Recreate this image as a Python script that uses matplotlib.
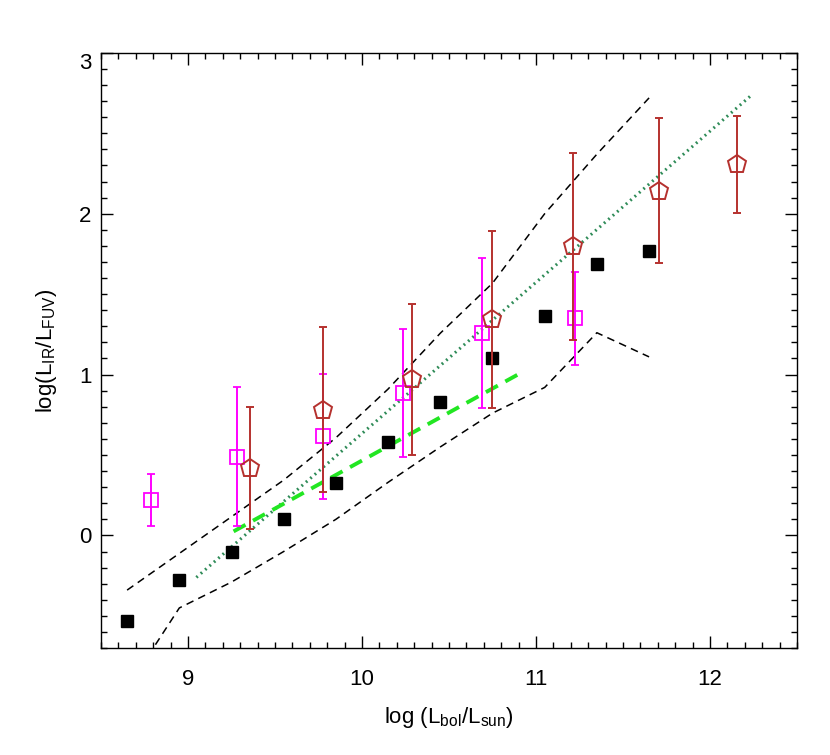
import matplotlib
matplotlib.use("Agg")
import matplotlib.pyplot as plt
import matplotlib.transforms as mtransforms
from matplotlib.ticker import MultipleLocator

plt.rcParams['font.family'] = ['Liberation Sans', 'DejaVu Sans']
plt.rcParams['mathtext.fontset'] = 'custom'
plt.rcParams['mathtext.rm'] = 'Liberation Sans'
plt.rcParams['mathtext.it'] = 'Liberation Sans'

# Black filled squares
blk_x = [8.65, 8.95, 9.25, 9.55, 9.85, 10.15, 10.45, 10.75, 11.05, 11.35, 11.65]
blk_y = [-0.53, -0.277, -0.10, 0.104, 0.325, 0.578, 0.83, 1.10, 1.363, 1.69, 1.766]

# Magenta open squares with error bars
mag_x = [8.785, 9.283, 9.774, 10.236, 10.69, 11.226]
mag_y = [0.222, 0.487, 0.619, 0.888, 1.261, 1.352]
mag_lo = [0.060, 0.056, 0.228, 0.487, 0.791, 1.062]
mag_hi = [0.381, 0.920, 1.003, 1.286, 1.727, 1.640]

# Red pentagons with error bars
red_x = [9.358, 9.774, 10.29, 10.75, 11.21, 11.707, 12.153]
red_y = [0.418, 0.781, 0.971, 1.344, 1.800, 2.143, 2.309]
red_lo = [0.040, 0.273, 0.497, 0.791, 1.215, 1.696, 2.006]
red_hi = [0.801, 1.296, 1.437, 1.891, 2.377, 2.592, 2.607]

# Black dashed envelopes
env_x = [8.65, 8.95, 9.25, 9.55, 9.85, 10.15, 10.45, 10.75, 11.05, 11.35, 11.65]
up_y = [-0.34, -0.112, 0.116, 0.344, 0.607, 0.91, 1.257, 1.568, 2.0, 2.37, 2.72]
lo_y = [-0.95, -0.451, -0.29, -0.10, 0.10, 0.33, 0.55, 0.76, 0.92, 1.26, 1.11]

# Green dashed fit
gfit_x = [9.262, 10.90]
gfit_y = [0.025, 1.0025]

# Sea-green dotted fit
dfit_x = [9.048, 12.245]
dfit_y = [-0.261, 2.743]

fig = plt.figure(figsize=(8.30, 7.55), dpi=100)
ax = fig.add_axes([0.1217, 0.1417, 0.9602 - 0.1217, 0.930 - 0.1417])

ax.plot(env_x, up_y, color='black', lw=1.1, linestyle=(0, (5, 3.5)), zorder=2)
ax.plot(env_x, lo_y, color='black', lw=1.1, linestyle=(0, (5, 3.5)), zorder=2)
ax.plot(dfit_x, dfit_y, color='#2e8b57', lw=2.2, linestyle=(0, (0.6, 1.3)), zorder=2)
ax.plot(gfit_x, gfit_y, color='#22e622', lw=2.8, linestyle=(0, (3.5, 2.2)), zorder=2)

ax.plot(blk_x, blk_y, linestyle='none', marker='s', ms=8.6, color='black', zorder=3)

ax.errorbar(mag_x, mag_y,
            yerr=[[y - l for y, l in zip(mag_y, mag_lo)], [h - y for y, h in zip(mag_y, mag_hi)]],
            fmt='s', ms=9.5, mfc='none', mec='#ff00ff', mew=1.3, ecolor='#ff00ff',
            elinewidth=1.4, capsize=3.2, capthick=1.4, zorder=4)

ax.errorbar(red_x, red_y,
            yerr=[[y - l for y, l in zip(red_y, red_lo)], [h - y for y, h in zip(red_y, red_hi)]],
            fmt='p', ms=13.5, mfc='none', mec='#b5312e', mew=1.4, ecolor='#b5312e',
            elinewidth=1.4, capsize=3.2, capthick=1.4, zorder=5)

ax.set_xlim(8.5, 12.5)
ax.set_ylim(-0.7, 3.0)
ax.xaxis.set_major_locator(MultipleLocator(1))
ax.xaxis.set_minor_locator(MultipleLocator(0.1))
ax.yaxis.set_major_locator(MultipleLocator(1))
ax.yaxis.set_minor_locator(MultipleLocator(0.1))
ax.tick_params(which='both', direction='in', top=True, right=True, width=1.0, labelsize=16)
ax.tick_params(which='major', length=8.5)
ax.tick_params(which='minor', length=4.5)
ax.tick_params(axis='x', which='major', pad=15)
ax.tick_params(axis='y', which='major', pad=7)
for s in ax.spines.values():
    s.set_linewidth(1.0)

ax.set_xlabel(r'log (L$_{\mathrm{bol}}$/L$_{\mathrm{sun}}$)', fontsize=16, labelpad=11)
ax.set_ylabel(r'log(L$_{\mathrm{IR}}$/L$_{\mathrm{FUV}}$)', fontsize=16, labelpad=14)

# shift the top y tick label slightly downward (as in the reference)
fig.canvas.draw()
for lbl in ax.get_yticklabels():
    if lbl.get_text() == '3':
        lbl.set_transform(lbl.get_transform() +
                          mtransforms.ScaledTranslation(0, -8 / 100, fig.dpi_scale_trans))

fig.savefig('out.png', dpi=100)
